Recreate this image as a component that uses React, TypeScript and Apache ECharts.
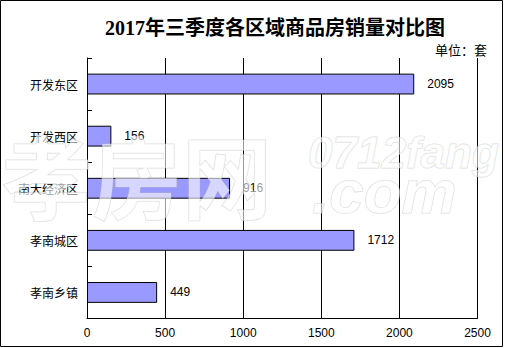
import React, { useEffect, useRef } from "react";
import * as echarts from "echarts";

const titleText = "2017年三季度各区域商品房销量对比图";
const unitText = "单位：套";
const categories = ["开发东区", "开发西区", "南大经济区", "孝南城区", "孝南乡镇"];
const sales = [2095, 156, 916, 1712, 449];
const xMin = 0;
const xMax = 2500;
const xInterval = 500;

export default function App() {
  const ref = useRef<HTMLDivElement>(null);
  useEffect(() => {
    document.body.style.margin = "0";
    const chart = echarts.init(ref.current!, null, { renderer: "svg" });
    const cjk = "'Noto Sans CJK SC', sans-serif";
    const wm = {
      fill: "rgba(255,255,255,0.6)",
      stroke: "rgba(190,190,190,0.55)",
      lineWidth: 1,
      shadowColor: "rgba(140,140,140,0.45)",
      shadowBlur: 2,
      shadowOffsetX: 2,
      shadowOffsetY: 2,
    };
    chart.setOption({
      animation: false,
      backgroundColor: "#ffffff",
      title: {
        text: titleText,
        left: 270,
        textAlign: "center",
        top: 13,
        textStyle: {
          fontSize: 20,
          fontWeight: "bold",
          color: "#000",
          fontFamily: "'Liberation Serif', 'Noto Sans CJK SC', serif",
        },
      },
      grid: { left: 87, right: 27.5, top: 58, bottom: 29.5, containLabel: false },
      xAxis: {
        type: "value",
        min: xMin,
        max: xMax,
        interval: xInterval,
        axisLine: { show: true, lineStyle: { color: "#000", width: 1 } },
        axisTick: { show: false },
        splitLine: { show: true, lineStyle: { color: "#000", width: 1, type: "solid" } },
        axisLabel: {
          color: "#000",
          fontSize: 12,
          margin: 8,
          fontFamily: "'Liberation Sans', sans-serif",
          formatter: (v: number) => String(v),
        },
      },
      yAxis: {
        type: "category",
        data: categories,
        inverse: true,
        axisLine: { show: true, lineStyle: { color: "#000", width: 1 } },
        axisTick: { show: true, inside: true, length: 5, lineStyle: { color: "#000" } },
        axisLabel: { color: "#000", fontSize: 12, margin: 9, fontFamily: cjk },
        splitLine: { show: false },
      },
      series: [
        {
          type: "bar",
          data: sales,
          barCategoryGap: "60%",
          itemStyle: { color: "#9999FF", borderColor: "#000", borderWidth: 1 },
          label: {
            show: true,
            position: "right",
            distance: 13,
            color: "#000",
            fontSize: 12,
            fontFamily: "'Liberation Sans', sans-serif",
          },
        },
      ],
      graphic: [
        {
          type: "text",
          right: 18,
          top: 43,
          style: { text: unitText, fill: "#000", font: "13px 'Noto Sans CJK SC', sans-serif" },
        },
        {
          type: "text",
          x: 2,
          y: 128,
          z: 100,
          silent: true,
          style: { text: "孝房网", font: "bold 90px 'Noto Sans CJK SC', sans-serif", ...wm },
        },
        {
          type: "text",
          x: 308,
          y: 130,
          z: 100,
          silent: true,
          style: { text: "0712fang", font: "italic bold 44px 'Liberation Sans', sans-serif", ...wm },
        },
        {
          type: "text",
          x: 312,
          y: 160,
          z: 100,
          silent: true,
          style: { text: ".com", font: "italic bold 62px 'Liberation Sans', sans-serif", ...wm },
        },
        {
          type: "rect",
          z: 100,
          shape: { x: 0.5, y: 0.5, width: 502, height: 346 },
          style: { fill: "none", stroke: "#000", lineWidth: 1 },
        },
      ],
    });
    return () => chart.dispose();
  }, []);
  return <div ref={ref} style={{ width: 505, height: 348 }} />;
}
